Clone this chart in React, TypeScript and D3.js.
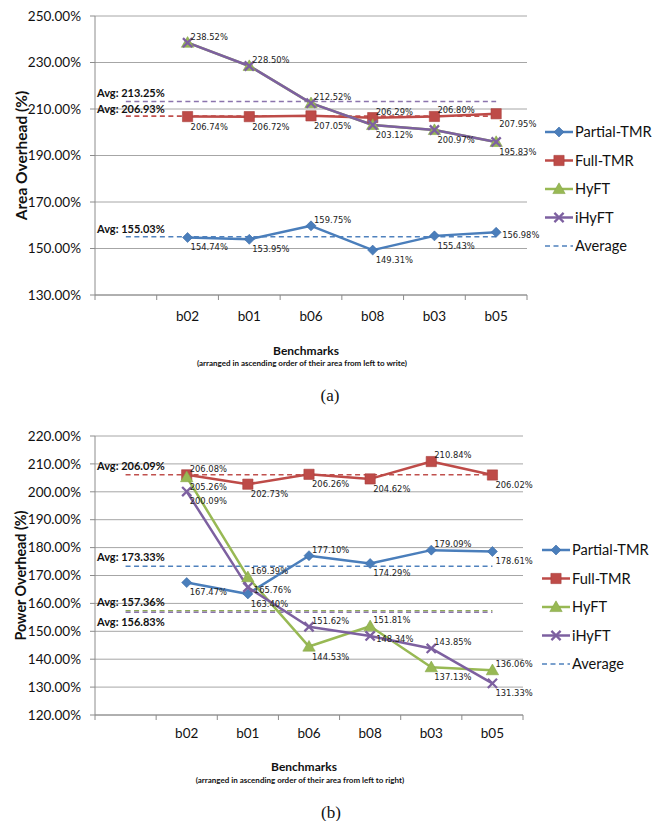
import * as d3 from 'd3';

// x categories (first slot is left empty, like the original spreadsheet chart)
const categories = ['', 'b02', 'b01', 'b06', 'b08', 'b03', 'b05'];
const seriesNames = ['Partial-TMR', 'Full-TMR', 'HyFT', 'iHyFT'];

// (a) area overhead
const areaPartial = [154.74, 153.95, 159.75, 149.31, 155.43, 156.98];
const areaFull = [206.74, 206.72, 207.05, 206.29, 206.8, 207.95];
const areaHyft = [238.52, 228.5, 212.52, 203.12, 200.97, 195.83];
const areaIhyft = [238.52, 228.5, 212.52, 203.12, 200.97, 195.83];
const areaAvgValues = [213.25, 206.93, 155.03];
const areaAvgSeries = ['iHyFT', 'Full-TMR', 'Partial-TMR'];
const areaTicks = [130, 150, 170, 190, 210, 230, 250];

// (b) power overhead
const powerPartial = [167.47, 163.4, 177.1, 174.29, 179.09, 178.61];
const powerFull = [206.08, 202.73, 206.26, 204.62, 210.84, 206.02];
const powerHyft = [205.26, 169.39, 144.53, 151.81, 137.13, 136.06];
const powerIhyft = [200.09, 165.76, 151.62, 148.34, 143.85, 131.33];
const powerAvgValues = [206.09, 173.33, 157.36, 156.83];
const powerAvgSeries = ['Full-TMR', 'Partial-TMR', 'HyFT', 'iHyFT'];
const powerTicks = [120, 130, 140, 150, 160, 170, 180, 190, 200, 210, 220];

const FONT = "Lato, 'Open Sans', sans-serif";
const LABEL_FONT = "'DejaVu Sans', Verdana, sans-serif";

const colors: Record<string, string> = {
  'Partial-TMR': '#4a7ebb',
  'Full-TMR': '#be4b48',
  HyFT: '#98b954',
  iHyFT: '#7d60a0',
};
const avgColors: Record<string, string> = {
  'Partial-TMR': '#4f81bd',
  'Full-TMR': '#c0504d',
  HyFT: '#8ea957',
  iHyFT: '#8b74ad',
};

// where each value label sits relative to its marker: a=above, b=below, r=right
const labelDy: Record<string, number> = { a: -6, b: 10, r: 3 };

function Marker({ name, x, y }: { name: string; x: number; y: number }) {
  const c = colors[name];
  if (name === 'Partial-TMR') {
    const p = d3.symbol(d3.symbolSquare, 50)();
    return <path d={p || ''} transform={`translate(${x},${y}) rotate(45)`} fill={c} stroke="#3d6ea8" strokeWidth={0.6} />;
  }
  if (name === 'Full-TMR') {
    const p = d3.symbol(d3.symbolSquare, 105)();
    return <path d={p || ''} transform={`translate(${x},${y})`} fill={c} stroke="#a8403d" strokeWidth={0.6} />;
  }
  if (name === 'HyFT') {
    const p = d3.symbol(d3.symbolTriangle, 66)();
    return <path d={p || ''} transform={`translate(${x},${y + 1})`} fill={c} stroke="#86a64a" strokeWidth={0.6} />;
  }
  const s = 4.6;
  const pth = d3.path();
  pth.moveTo(-s, -s);
  pth.lineTo(s, s);
  pth.moveTo(-s, s);
  pth.lineTo(s, -s);
  return <path d={pth.toString()} transform={`translate(${x},${y})`} stroke={c} strokeWidth={2.3} fill="none" />;
}

interface PanelCfg {
  left: number;
  right: number;
  top: number;
  bottom: number;
  domain: [number, number];
  ticks: number[];
  series: Record<string, number[]>;
  showLabels: Record<string, boolean>;
  placement: Record<string, string>;
  avgValues: number[];
  avgSeries: string[];
  avgLabelDy: number[];
  yTitle: string;
  yTitleSize: number;
  yTitleX: number;
  xLabelY: number;
  titleY: number;
  subtitle: string;
  subtitleY: number;
  caption: string;
  captionX: number;
  captionY: number;
  legendX: number;
  legendY: number;
}

function Panel({ cfg }: { cfg: PanelCfg }) {
  const x = d3.scaleBand<string>().domain(categories).range([cfg.left, cfg.right]).padding(0);
  const y = d3.scaleLinear().domain(cfg.domain).range([cfg.bottom, cfg.top]);
  const cx = (c: string) => (x(c) ?? 0) + x.bandwidth() / 2;
  const pts = categories.slice(1);
  const line = d3
    .line<number>()
    .x((_, i) => cx(pts[i]))
    .y((d) => y(d));
  const midX = (cfg.left + cfg.right) / 2;
  const tickEdges = categories.map((c) => x(c) ?? 0).concat([cfg.right]);

  return (
    <g>
      {/* gridlines */}
      {cfg.ticks.map((t) => (
        <line key={`g${t}`} x1={cfg.left} x2={cfg.right} y1={y(t)} y2={y(t)} stroke="#a6a6a6" strokeWidth={1} />
      ))}
      {/* y axis */}
      <line x1={cfg.left} x2={cfg.left} y1={cfg.top} y2={cfg.bottom} stroke="#8c8c8c" strokeWidth={1} />
      {cfg.ticks.map((t) => (
        <g key={`t${t}`}>
          <line x1={cfg.left - 5} x2={cfg.left} y1={y(t)} y2={y(t)} stroke="#8c8c8c" />
          <text x={cfg.left - 14} y={y(t)} dy="0.35em" textAnchor="end" fontSize={13.5} fill="#111" fontFamily={FONT}>
            {t.toFixed(2)}%
          </text>
        </g>
      ))}
      {/* x axis */}
      <line x1={cfg.left} x2={cfg.right} y1={cfg.bottom} y2={cfg.bottom} stroke="#8c8c8c" strokeWidth={1} />
      {tickEdges.map((e, i) => (
        <line key={`xt${i}`} x1={e} x2={e} y1={cfg.bottom} y2={cfg.bottom + 5} stroke="#8c8c8c" />
      ))}
      {pts.map((c) => (
        <text key={`xl${c}`} x={cx(c)} y={cfg.xLabelY} dy="0.35em" textAnchor="middle" fontSize={13.5} fill="#111" fontFamily={FONT}>
          {c}
        </text>
      ))}
      <text x={cfg.yTitleX} y={(cfg.top + cfg.bottom) / 2} transform={`rotate(-90 ${cfg.yTitleX} ${(cfg.top + cfg.bottom) / 2})`} dy="0.35em" textAnchor="middle" fontSize={cfg.yTitleSize} fontWeight="bold" fill="#111" fontFamily={FONT}>
        {cfg.yTitle}
      </text>
      <text x={midX - 5} y={cfg.titleY} dy="0.35em" textAnchor="middle" fontSize={12} fontWeight="bold" fill="#111" fontFamily={FONT}>
        Benchmarks
      </text>
      <text x={midX - 9} y={cfg.subtitleY} dy="0.35em" textAnchor="middle" fontSize={8} fontWeight="bold" fill="#111" fontFamily={FONT}>
        {cfg.subtitle}
      </text>
      <text x={cfg.captionX} y={cfg.captionY} dy="0.35em" textAnchor="middle" fontSize={17} fill="#111" fontFamily="'Liberation Serif', 'Times New Roman', serif">
        {cfg.caption}
      </text>

      {/* average lines */}
      {cfg.avgValues.map((v, i) => (
        <line key={`avg${i}`} x1={cx(categories[0])} x2={cx(categories[6])} y1={y(v)} y2={y(v)} stroke={avgColors[cfg.avgSeries[i]]} strokeWidth={1.6} strokeDasharray="5,3.5" />
      ))}

      {/* series lines */}
      {seriesNames.map((s) => (
        <path key={`l${s}`} d={line(cfg.series[s]) || ''} fill="none" stroke={colors[s]} strokeWidth={2.5} strokeLinejoin="round" />
      ))}
      {seriesNames.map((s) =>
        cfg.series[s].map((v, i) => <Marker key={`m${s}${i}`} name={s} x={cx(pts[i])} y={y(v)} />),
      )}
      {/* value labels */}
      {seriesNames.map((s) =>
        cfg.showLabels[s]
          ? cfg.series[s].map((v, i) => {
              const code = cfg.placement[s][i];
              return (
                <text key={`v${s}${i}`} x={cx(pts[i]) + (code === 'r' ? 6 : 3)} y={y(v) + labelDy[code]} dy="0.35em" fontSize={8.4} fill="#222" fontFamily={LABEL_FONT}>
                  {v.toFixed(2)}%
                </text>
              );
            })
          : null,
      )}
      {/* average labels */}
      {cfg.avgValues.map((v, i) => (
        <text key={`al${i}`} x={cfg.left + 2} y={y(v) + cfg.avgLabelDy[i]} dy="0.35em" fontSize={11} fontWeight="bold" fill="#111" fontFamily={FONT}>
          Avg: {v.toFixed(2)}%
        </text>
      ))}

      {/* legend */}
      <g transform={`translate(${cfg.legendX},${cfg.legendY})`}>
        {seriesNames.map((s, i) => (
          <g key={`lg${s}`} transform={`translate(0,${i * 28.5})`}>
            <line x1={0} x2={28} y1={0} y2={0} stroke={colors[s]} strokeWidth={2.5} />
            <Marker name={s} x={14} y={0} />
            <text x={30} y={0} dy="0.35em" fontSize={14.6} fill="#111" fontFamily={FONT}>
              {s}
            </text>
          </g>
        ))}
        <g transform={`translate(0,${4 * 28.5})`}>
          <line x1={0} x2={28} y1={0} y2={0} stroke={avgColors['Partial-TMR']} strokeWidth={1.6} strokeDasharray="5,3.5" />
          <text x={30} y={0} dy="0.35em" fontSize={14.6} fill="#111" fontFamily={FONT}>
            Average
          </text>
        </g>
      </g>
    </g>
  );
}

const areaCfg: PanelCfg = {
  left: 95,
  right: 527,
  top: 16,
  bottom: 295,
  domain: [130, 250],
  ticks: areaTicks,
  series: { 'Partial-TMR': areaPartial, 'Full-TMR': areaFull, HyFT: areaHyft, iHyFT: areaIhyft },
  showLabels: { 'Partial-TMR': true, 'Full-TMR': true, HyFT: false, iHyFT: true },
  placement: { 'Partial-TMR': 'bbabbr', 'Full-TMR': 'bbbaab', HyFT: 'aaabbb', iHyFT: 'aaabbb' },
  avgValues: areaAvgValues,
  avgSeries: areaAvgSeries,
  avgLabelDy: [-8, -7, -8],
  yTitle: 'Area Overhead (%)',
  yTitleSize: 15.5,
  yTitleX: 22,
  xLabelY: 316,
  titleY: 351,
  subtitle: '(arranged in ascending order of their area from left to write)',
  subtitleY: 363,
  caption: '(a)',
  captionX: 330,
  captionY: 395,
  legendX: 545,
  legendY: 132,
};

const powerCfg: PanelCfg = {
  left: 95,
  right: 523,
  top: 436,
  bottom: 715,
  domain: [120, 220],
  ticks: powerTicks,
  series: { 'Partial-TMR': powerPartial, 'Full-TMR': powerFull, HyFT: powerHyft, iHyFT: powerIhyft },
  showLabels: { 'Partial-TMR': true, 'Full-TMR': true, HyFT: true, iHyFT: true },
  placement: { 'Partial-TMR': 'bbabab', 'Full-TMR': 'abbbab', HyFT: 'bababa', iHyFT: 'brarab' },
  avgValues: powerAvgValues,
  avgSeries: powerAvgSeries,
  avgLabelDy: [-9, -9, -9, 10],
  yTitle: 'Power Overhead (%)',
  yTitleSize: 14.3,
  yTitleX: 21,
  xLabelY: 733,
  titleY: 767,
  subtitle: '(arranged in ascending order of their area from left to right)',
  subtitleY: 780,
  caption: '(b)',
  captionX: 331,
  captionY: 812,
  legendX: 542,
  legendY: 550,
};

export default function App() {
  return (
    <svg width={654} height={821} viewBox="0 0 654 821" style={{ position: 'absolute', left: 0, top: 0, background: '#fff' }}>
      <Panel cfg={areaCfg} />
      <Panel cfg={powerCfg} />
    </svg>
  );
}
